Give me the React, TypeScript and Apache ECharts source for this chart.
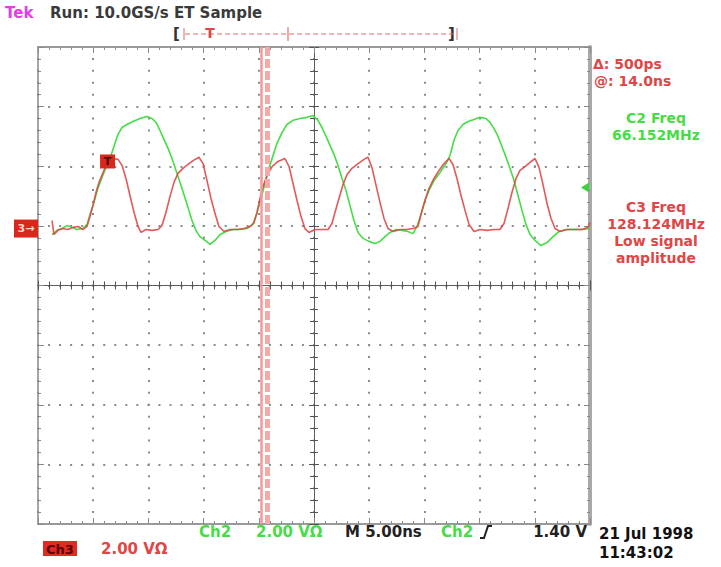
import React, { useEffect, useRef } from "react";
import * as echarts from "echarts";

const FONT = "'DejaVu Sans', 'Liberation Sans', sans-serif";

// Horizontal: ns relative to screen centre (M 5.00ns per div, 10 div).
// Vertical: volts, 2.00 V per div, 8 div.
const timeMin = -25;
const timeMax = 25;
const timePerDiv = 5;
const voltMin = -8;
const voltMax = 8;
const voltPerDiv = 2;

// Ch2 trace (green), [ns, V]
const ch2Trace: [number, number][] = [
  [-23.73, 1.71], [-23.28, 1.85], [-22.83, 1.91], [-22.37, 2.01], [-21.92, 1.95],
  [-21.47, 1.88], [-20.92, 1.91], [-20.56, 2.05], [-20.29, 2.38], [-19.93, 2.79],
  [-19.57, 3.26], [-19.2, 3.62], [-18.84, 3.96], [-18.48, 4.26], [-18.12, 4.66],
  [-17.75, 5.07], [-17.39, 5.3], [-16.94, 5.4], [-16.4, 5.5], [-15.76, 5.6],
  [-15.13, 5.67], [-14.67, 5.6], [-14.31, 5.47], [-13.95, 5.2], [-13.59, 4.9],
  [-13.22, 4.6], [-12.86, 4.26], [-12.5, 3.86], [-12.14, 3.46], [-11.78, 3.05],
  [-11.41, 2.62], [-11.05, 2.18], [-10.69, 1.85], [-10.33, 1.64], [-9.87, 1.51],
  [-9.42, 1.38], [-8.97, 1.51], [-8.51, 1.71], [-7.97, 1.81], [-7.34, 1.88],
  [-6.7, 1.88], [-6.07, 1.91], [-5.53, 2.05], [-5.16, 2.45], [-4.8, 2.92],
  [-4.44, 3.42], [-4.08, 3.93], [-3.71, 4.36], [-3.35, 4.77], [-2.9, 5.13],
  [-2.45, 5.4], [-1.9, 5.54], [-1.27, 5.6], [-0.63, 5.64], [-0.09, 5.7],
  [0.36, 5.54], [0.72, 5.3], [1.09, 5.0], [1.45, 4.7], [1.81, 4.4],
  [2.17, 4.03], [2.54, 3.59], [2.9, 3.19], [3.26, 2.68], [3.62, 2.18],
  [3.99, 1.78], [4.44, 1.58], [4.98, 1.48], [5.53, 1.41], [5.98, 1.48],
  [6.43, 1.64], [6.88, 1.78], [7.43, 1.88], [7.97, 1.85], [8.51, 1.81],
  [8.97, 1.74], [9.33, 1.98], [9.69, 2.38], [10.05, 2.85], [10.42, 3.19],
  [10.87, 3.52], [11.41, 3.79], [11.96, 4.09], [12.32, 4.36], [12.68, 4.87],
  [13.04, 5.2], [13.5, 5.4], [13.95, 5.5], [14.49, 5.57], [15.04, 5.64],
  [15.58, 5.6], [15.94, 5.47], [16.3, 5.27], [16.67, 5.0], [17.03, 4.66],
  [17.39, 4.3], [17.75, 3.93], [18.12, 3.52], [18.48, 3.02], [18.84, 2.52],
  [19.2, 2.05], [19.57, 1.71], [20.02, 1.51], [20.56, 1.34], [21.11, 1.44],
  [21.65, 1.64], [22.19, 1.81], [22.83, 1.88], [23.55, 1.88], [24.28, 1.88],
  [25.0, 1.91],
];

// Ch3 trace (red), [ns, V]
const ch3Trace: [number, number][] = [
  [-23.73, 2.18], [-23.55, 1.71], [-23.19, 1.85], [-22.74, 1.91], [-22.28, 1.88],
  [-21.83, 1.95], [-21.38, 1.98], [-20.92, 1.88], [-20.56, 1.98], [-20.29, 2.32],
  [-20.02, 2.68], [-19.75, 3.12], [-19.47, 3.46], [-19.11, 3.79], [-18.75, 4.09],
  [-18.3, 4.26], [-17.75, 4.23], [-17.39, 4.03], [-17.03, 3.59], [-16.67, 3.02],
  [-16.3, 2.45], [-15.94, 1.98], [-15.67, 1.78], [-15.22, 1.88], [-14.67, 1.85],
  [-14.13, 1.88], [-13.77, 2.01], [-13.41, 2.45], [-13.04, 2.99], [-12.68, 3.46],
  [-12.32, 3.76], [-11.87, 3.93], [-11.41, 4.06], [-10.96, 4.19], [-10.42, 4.3],
  [-10.05, 4.09], [-9.69, 3.52], [-9.33, 2.92], [-8.97, 2.42], [-8.61, 1.98],
  [-8.15, 1.81], [-7.61, 1.88], [-6.97, 1.88], [-6.34, 1.91], [-5.8, 1.98],
  [-5.43, 2.11], [-5.16, 2.45], [-4.89, 2.92], [-4.62, 3.32], [-4.26, 3.69],
  [-3.8, 3.99], [-3.26, 4.16], [-2.63, 4.26], [-2.26, 3.99], [-1.9, 3.42],
  [-1.54, 2.85], [-1.18, 2.32], [-0.82, 1.91], [-0.45, 1.78], [0.09, 1.88],
  [0.72, 1.88], [1.27, 1.88], [1.63, 2.08], [1.9, 2.45], [2.26, 2.92],
  [2.63, 3.39], [2.99, 3.72], [3.44, 3.93], [3.99, 4.09], [4.53, 4.23],
  [4.89, 4.3], [5.25, 3.96], [5.62, 3.36], [5.98, 2.79], [6.34, 2.25],
  [6.7, 1.91], [7.16, 1.81], [7.79, 1.88], [8.42, 1.88], [8.97, 1.91],
  [9.42, 1.98], [9.69, 2.38], [10.05, 2.85], [10.42, 3.26], [10.87, 3.59],
  [11.32, 3.86], [11.78, 4.09], [12.23, 4.26], [12.59, 4.06], [12.95, 3.59],
  [13.32, 3.02], [13.68, 2.52], [14.04, 2.05], [14.49, 1.81], [15.04, 1.88],
  [15.67, 1.85], [16.3, 1.88], [16.85, 1.88], [17.21, 2.08], [17.57, 2.58],
  [17.93, 3.12], [18.3, 3.59], [18.66, 3.86], [19.11, 3.99], [19.57, 4.13],
  [20.02, 4.26], [20.38, 3.96], [20.74, 3.39], [21.11, 2.75], [21.47, 2.25],
  [21.83, 1.91], [22.28, 1.81], [22.92, 1.88], [23.55, 1.88], [24.28, 1.88],
  [24.82, 1.95], [25.0, 2.11],
];

// Cursors (Δ 500ps apart), trigger mark, reference levels
const cursorTimes = [-4.75, -4.25];
const triggerMark: [number, number] = [-18.7, 4.16];
const ch3GroundLevel = 1.91;
const ch2TriggerLevel = 3.29;

// Texts
const brandText = "Tek";
const headerText = "Run: 10.0GS/s ET Sample";
const cursorReadout = ["Δ: 500ps", "@: 14.0ns"];
const ch2Measure = ["C2 Freq", "66.152MHz"];
const ch3Measure = ["C3 Freq", "128.124MHz", "Low signal", "amplitude"];
const ch2Label = "Ch2";
const ch2Scale = "2.00 VΩ";
const timebase = "M 5.00ns";
const trigSource = "Ch2";
const trigLevel = "1.40 V";
const ch3Label = "Ch3";
const ch3Scale = "2.00 VΩ";
const dateText = "21 Jul 1998";
const timeText = "11:43:02";

const GREEN = "#46dc46";
const RED = "#e04646";
const PINK = "#f29a9a";

function txt(text: string, x: number, y: number, fill: string, align = "left", size = 15, weight = "bold") {
  return {
    type: "text",
    x,
    y,
    silent: true,
    style: {
      text,
      fill,
      font: `${weight} ${size}px ${FONT}`,
      textAlign: align,
      align,
      textVerticalAlign: "middle",
      verticalAlign: "middle",
    },
  };
}

function xAxisCfg(kind: "bottomBorder" | "topBorder" | "centerIn" | "centerOut") {
  const border = kind === "bottomBorder" || kind === "topBorder";
  return {
    type: "value",
    min: timeMin,
    max: timeMax,
    interval: timePerDiv,
    position: kind === "topBorder" ? "top" : "bottom",
    axisLine: {
      show: kind !== "centerOut",
      onZero: !border,
      onZeroAxisIndex: 0,
      lineStyle: { color: border ? "#9a9a9a" : "#5c5c5c", width: border ? 2 : 1 },
    },
    axisTick: {
      show: true,
      inside: kind !== "centerOut",
      length: border ? 6 : 5,
      lineStyle: { color: border ? "#8a8a8a" : "#555", width: 1 },
    },
    minorTick: {
      show: true,
      splitNumber: 5,
      length: border ? 3 : 4,
      lineStyle: { color: border ? "#8a8a8a" : "#555", width: 1 },
    },
    axisLabel: { show: false },
    splitLine: {
      show: kind === "bottomBorder",
      lineStyle: { color: "#8c8c8c", width: 2, type: [2, 9.925], dashOffset: 1 },
    },
  };
}

function yAxisCfg(kind: "leftBorder" | "rightBorder" | "centerIn" | "centerOut") {
  const border = kind === "leftBorder" || kind === "rightBorder";
  return {
    type: "value",
    min: voltMin,
    max: voltMax,
    interval: voltPerDiv,
    position: kind === "rightBorder" ? "right" : "left",
    axisLine: {
      show: kind !== "centerOut",
      onZero: !border,
      onZeroAxisIndex: 0,
      lineStyle: {
        color: kind === "rightBorder" ? "#a8a8a8" : border ? "#8a8a8a" : "#5c5c5c",
        width: kind === "rightBorder" ? 4 : border ? 1.5 : 1,
      },
    },
    axisTick: {
      show: true,
      inside: kind !== "centerOut",
      length: border ? 6 : 5,
      lineStyle: { color: border ? "#8a8a8a" : "#555", width: 1 },
    },
    minorTick: {
      show: true,
      splitNumber: 5,
      length: border ? 3 : 4,
      lineStyle: { color: border ? "#8a8a8a" : "#555", width: 1 },
    },
    axisLabel: { show: false },
    splitLine: {
      show: kind === "leftBorder",
      lineStyle: { color: "#8c8c8c", width: 2, type: [2, 9.04], dashOffset: 1 },
    },
  };
}

export default function App() {
  const ref = useRef<HTMLDivElement>(null);

  useEffect(() => {
    document.body.style.margin = "0";
    const chart = echarts.init(ref.current!, null, { renderer: "svg" });

    const graphicElements: any[] = [
      txt(brandText, 5, 13, "#e03ee6"),
      txt(headerText, 50, 13, "#3a3a3a"),
      // record-length bar
      txt("[", 173, 34, "#333", "left", 15),
      txt("]", 448, 34, "#333", "left", 15),
      {
        type: "line",
        silent: true,
        shape: { x1: 185, y1: 34, x2: 456, y2: 34 },
        style: { stroke: "#e06a6a", lineWidth: 1, lineDash: [5, 3] },
      },
      { type: "line", silent: true, shape: { x1: 184, y1: 28, x2: 184, y2: 40 }, style: { stroke: "#e06a6a", lineWidth: 1 } },
      { type: "line", silent: true, shape: { x1: 457, y1: 28, x2: 457, y2: 40 }, style: { stroke: "#e06a6a", lineWidth: 1 } },
      { type: "line", silent: true, shape: { x1: 288, y1: 27, x2: 288, y2: 41 }, style: { stroke: "#f2a6a6", lineWidth: 2 } },
      txt("T", 210, 33, "#e04646", "center", 14),
      // right-hand readouts
      txt(cursorReadout[0], 593, 63.5, RED, "left", 14),
      txt(cursorReadout[1], 594, 80.5, RED, "left", 14),
      txt(ch2Measure[0], 656, 118, GREEN, "center", 14),
      txt(ch2Measure[1], 656, 135, GREEN, "center", 14),
      txt(ch3Measure[0], 656, 207, RED, "center", 14),
      txt(ch3Measure[1], 656, 224, RED, "center", 14),
      txt(ch3Measure[2], 656, 241, RED, "center", 14),
      txt(ch3Measure[3], 656, 258, RED, "center", 14),
      // bottom status line
      txt(ch2Label, 199, 532, GREEN),
      txt(ch2Scale, 256, 532, GREEN),
      txt(timebase, 345, 532, "#222"),
      txt(trigSource, 441, 532, GREEN),
      {
        type: "polyline",
        silent: true,
        shape: { points: [[480, 538], [484, 538], [488, 526], [492, 526]] },
        style: { stroke: "#222", lineWidth: 2, fill: "none" },
      },
      txt(trigLevel, 587, 532, "#222", "right"),
      txt(dateText, 599, 534, "#111"),
      txt(timeText, 599, 553, "#111"),
      {
        type: "rect",
        silent: true,
        shape: { x: 43, y: 541, width: 34, height: 15 },
        style: { fill: "#e02a22" },
      },
      txt(ch3Label, 60, 549, "#5a0000", "center", 13),
      txt(ch3Scale, 101, 549, RED),
    ];

    chart.setOption({
      animation: false,
      backgroundColor: "#ffffff",
      grid: { left: 38, right: 131, top: 47, bottom: 43, containLabel: false },
      xAxis: [xAxisCfg("bottomBorder"), xAxisCfg("topBorder"), xAxisCfg("centerIn"), xAxisCfg("centerOut")],
      yAxis: [yAxisCfg("leftBorder"), yAxisCfg("rightBorder"), yAxisCfg("centerIn"), yAxisCfg("centerOut")],
      series: [
        {
          name: "cursors",
          type: "line",
          xAxisIndex: 0,
          yAxisIndex: 0,
          data: [],
          z: 1,
          silent: true,
          markLine: {
            silent: true,
            symbol: ["none", "none"],
            label: { show: false },
            data: [
              { xAxis: cursorTimes[0], lineStyle: { color: PINK, width: 2.5, type: "solid" } },
              { xAxis: cursorTimes[1], lineStyle: { color: "#f5aaaa", width: 5, type: [9, 3] } },
            ],
          },
        },
        {
          name: "Ch2",
          type: "line",
          xAxisIndex: 0,
          yAxisIndex: 0,
          data: ch2Trace,
          showSymbol: false,
          z: 3,
          lineStyle: { color: GREEN, width: 1.6 },
          markPoint: {
            silent: true,
            data: [
              {
                coord: [timeMax, ch2TriggerLevel],
                symbol: "path://M10,0 L0,5 L10,10 Z",
                symbolSize: [8, 10],
                symbolOffset: [-5, 0],
                itemStyle: { color: "#3ad43a" },
                label: { show: false },
              },
            ],
          },
        },
        {
          name: "Ch3",
          type: "line",
          xAxisIndex: 0,
          yAxisIndex: 0,
          data: ch3Trace,
          showSymbol: false,
          z: 4,
          lineStyle: { color: RED, width: 1.6, opacity: 0.9 },
          markPoint: {
            silent: true,
            data: [
              {
                coord: triggerMark,
                symbol: "rect",
                symbolSize: [15, 14],
                itemStyle: { color: "#d8281c" },
                label: { show: true, position: "inside", formatter: "T", color: "#4a0000", fontSize: 11, fontWeight: "bold", fontFamily: FONT },
              },
              {
                coord: [timeMin, ch3GroundLevel],
                symbol: "rect",
                symbolSize: [24, 18],
                symbolOffset: [-12, 0],
                itemStyle: { color: "#d8281c" },
                label: { show: true, position: "inside", formatter: "3→", color: "#ffd8c8", fontSize: 11, fontWeight: "bold", fontFamily: FONT },
              },
            ],
          },
        },
      ],
      graphic: graphicElements,
    });

    return () => chart.dispose();
  }, []);

  return (
    <div
      ref={ref}
      style={{ position: "absolute", left: 0, top: 0, width: 721, height: 567, background: "#fff" }}
    />
  );
}
